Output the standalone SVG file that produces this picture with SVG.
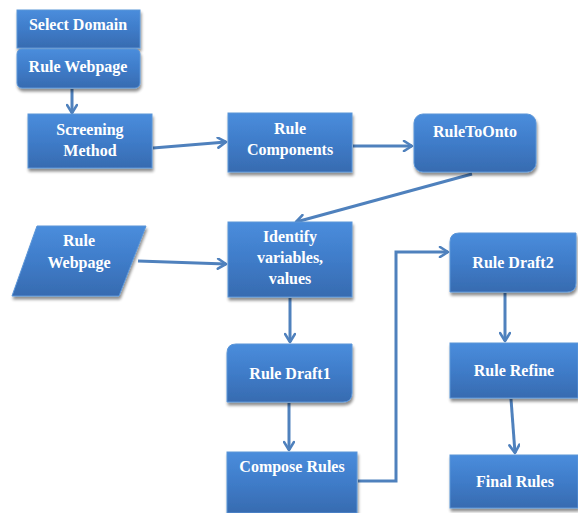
<svg xmlns="http://www.w3.org/2000/svg" width="578" height="513" viewBox="0 0 578 513">
<defs>
<linearGradient id="g" x1="0" y1="0" x2="0" y2="1">
<stop offset="0" stop-color="#4a8ddc"/>
<stop offset="0.5" stop-color="#3f7cc9"/>
<stop offset="1" stop-color="#376bb0"/>
</linearGradient>
<filter id="sh" x="-10%" y="-10%" width="130%" height="140%">
<feGaussianBlur in="SourceAlpha" stdDeviation="1.8"/>
<feOffset dx="1" dy="3" result="b"/>
<feComponentTransfer><feFuncA type="linear" slope="0.45"/></feComponentTransfer>
<feMerge><feMergeNode/><feMergeNode in="SourceGraphic"/></feMerge>
</filter>
<marker id="ar" viewBox="0 0 12 12" refX="10" refY="6" markerWidth="12" markerHeight="12" markerUnits="userSpaceOnUse" orient="auto">
<path d="M2,1 L10,6 L2,11" fill="none" stroke="#4f81bd" stroke-width="2.6" stroke-linecap="round" stroke-linejoin="round"/>
</marker>
</defs>
<style>
.n{fill:url(#g);stroke:#5a95d8;stroke-width:1;filter:url(#sh)}
.t{font-family:"Liberation Serif","Times New Roman",serif;font-weight:bold;font-size:16px;fill:#ffffff;text-anchor:middle}
.c{fill:none;stroke:#4f81bd;stroke-width:3;marker-end:url(#ar)}
</style>
<g id="connectors">
<path class="c" d="M72,89 L72,113"/>
<path class="c" d="M153,148 L226,142"/>
<path class="c" d="M353,146 L412,146"/>
<path class="c" d="M472,174 L296,222"/>
<path class="c" d="M138,261 L226,264"/>
<path class="c" d="M290,298 L290,342"/>
<path class="c" d="M289,403 L289,450"/>
<path class="c" d="M358,481 L396,481 L396,252 L448,252"/>
<path class="c" d="M505,293 L505,341"/>
<path class="c" d="M511,399 L515,453"/>
</g>
<g id="selectDomain">
<rect class="n" x="17" y="10" width="123" height="38"/>
<text class="t" x="78" y="30">Select Domain</text>
</g>
<g id="ruleWebpage1">
<rect class="n" x="17" y="49" width="123" height="39" rx="5"/>
<text class="t" x="78" y="72">Rule Webpage</text>
</g>
<g id="screening">
<rect class="n" x="28" y="114" width="124" height="54"/>
<text class="t" x="90" y="135">Screening</text>
<text class="t" x="90" y="156">Method</text>
</g>
<g id="ruleComponents">
<rect class="n" x="228" y="113" width="124" height="59"/>
<text class="t" x="290" y="134">Rule</text>
<text class="t" x="290" y="155">Components</text>
</g>
<g id="ruleToOnto">
<rect class="n" x="414" y="114" width="122" height="58" rx="9"/>
<text class="t" x="475" y="137">RuleToOnto</text>
</g>
<g id="ruleWebpage2">
<polygon class="n" points="37,226 146,226 119,296 12,296"/>
<text class="t" x="79" y="246">Rule</text>
<text class="t" x="79" y="268">Webpage</text>
</g>
<g id="identify">
<rect class="n" x="228" y="222" width="124" height="75"/>
<text class="t" x="290" y="242">Identify</text>
<text class="t" x="290" y="263">variables,</text>
<text class="t" x="290" y="284">values</text>
</g>
<g id="ruleDraft2">
<path class="n" d="M459,233 L576,233 L576,283 Q576,292 567,292 L450,292 L450,242 Q450,233 459,233 Z"/>
<text class="t" x="513" y="268">Rule Draft2</text>
</g>
<g id="ruleDraft1">
<path class="n" d="M236,344 L352,344 L352,393 Q352,402 343,402 L227,402 L227,353 Q227,344 236,344 Z"/>
<text class="t" x="290" y="379">Rule Draft1</text>
</g>
<g id="composeRules">
<rect class="n" x="227" y="452" width="130" height="61"/>
<text class="t" x="292" y="472">Compose Rules</text>
</g>
<g id="ruleRefine">
<rect class="n" x="450" y="343" width="128" height="55"/>
<text class="t" x="514" y="376">Rule Refine</text>
</g>
<g id="finalRules">
<rect class="n" x="450" y="455" width="128" height="53"/>
<text class="t" x="515" y="487">Final Rules</text>
</g>
</svg>
